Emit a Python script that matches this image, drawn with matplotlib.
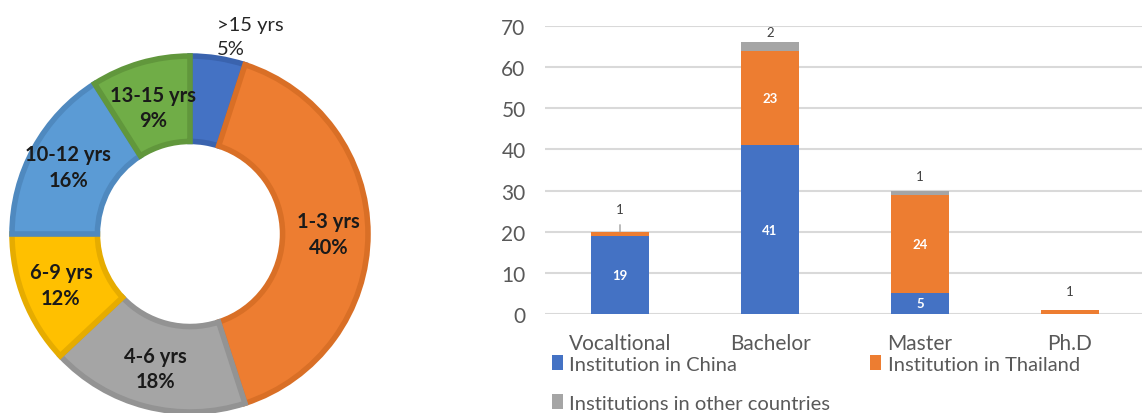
import matplotlib
matplotlib.use("Agg")
from matplotlib import pyplot as plt
import numpy as np

plt.rcParams['font.family'] = ['Lato', 'DejaVu Sans']

# donut data (clockwise from top)
years = [">15 yrs", "1-3 yrs", "4-6 yrs", "6-9 yrs", "10-12 yrs", "13-15 yrs"]
shares = [5, 40, 18, 12, 16, 9]
pie_colors = ["#4472C4", "#ED7D31", "#A5A5A5", "#FFC000", "#5B9BD5", "#70AD47"]
pie_edges = ["#3A63AE", "#D96F26", "#939393", "#E6AC00", "#4F89BF", "#61973C"]

# stacked bar data
levels = ["Vocaltional", "Bachelor", "Master", "Ph.D"]
china = [19, 41, 5, 0]
thailand = [1, 23, 24, 1]
other = [0, 2, 1, 0]

fig = plt.figure(figsize=(11.42, 4.14), dpi=100)

# ---- donut ----
axp = fig.add_axes([12/1142, 1/414, 356/1142, 356/414])
wedges, _ = axp.pie(shares, colors=pie_colors, startangle=90, counterclock=False,
                    radius=1.0, wedgeprops=dict(width=0.48, linewidth=4))
for w, ec in zip(wedges, pie_edges):
    w.set_edgecolor(ec)
axp.set_xlim(-1, 1)
axp.set_ylim(-1, 1)
axp.set_aspect('equal')

total = sum(shares)
start = 90.0
for i, (lab, s) in enumerate(zip(years, shares)):
    ang = start - 360 * s / total / 2
    start -= 360 * s / total
    txt = f"{lab}\n{s}%"
    if i == 0:
        axp.text(0.15, 1.11, txt, ha='left', va='center', fontsize=14.5,
                 color='#262626', linespacing=1.45, clip_on=False)
        continue
    r = 0.78 if i != 5 else 0.74
    x, y = r * np.cos(np.radians(ang)), r * np.sin(np.radians(ang))
    axp.text(x, y, txt, ha='center', va='center', fontsize=14.5, fontweight='bold',
             color='#1a1a1a', linespacing=1.35)

# ---- stacked bars ----
ax = fig.add_axes([545/1142, 1 - 315/414, 600/1142, 288/414])
xs = np.arange(len(levels))
bw = 0.39
b1 = ax.bar(xs, china, bw, color="#4472C4", zorder=3)
b2 = ax.bar(xs, thailand, bw, bottom=china, color="#ED7D31", zorder=3)
bot3 = np.array(china) + np.array(thailand)
b3 = ax.bar(xs, other, bw, bottom=bot3, color="#A5A5A5", zorder=3)

ax.set_xlim(-0.5, 3.5)
ax.set_ylim(0, 70)
ax.set_yticks(range(0, 71, 10))
ax.grid(axis='y', color='#D9D9D9', linewidth=1.5, zorder=0)
for sp in ax.spines.values():
    sp.set_visible(False)
ax.tick_params(axis='y', length=0, labelsize=15, labelcolor='#595959', pad=14)
ax.tick_params(axis='x', length=0, labelsize=15, labelcolor='#595959', pad=14)
ax.set_xticks(xs)
ax.set_xticklabels(levels)

# labels inside
for i in range(len(levels)):
    if china[i] >= 5:
        ax.text(xs[i], china[i] / 2 if china[i] > 5 else 2.6, str(china[i]), ha='center',
                va='center', color='white', fontsize=9.5, fontweight='bold', zorder=4)
    if thailand[i] >= 5:
        ax.text(xs[i], china[i] + thailand[i] / 2, str(thailand[i]), ha='center',
                va='center', color='white', fontsize=9.5, fontweight='bold', zorder=4)
# small values above bars
ax.annotate(str(thailand[0]), xy=(xs[0], bot3[0]), xytext=(xs[0], bot3[0] + 5.5),
            ha='center', va='center', fontsize=9.5, color='#404040',
            arrowprops=dict(arrowstyle='-', color='#A0A0A0', lw=1, shrinkA=5, shrinkB=0))
ax.text(xs[1], bot3[1] + other[1] + 2.5, str(other[1]), ha='center', va='center',
        fontsize=9.5, color='#404040')
ax.text(xs[2], bot3[2] + other[2] + 3.6, str(other[2]), ha='center', va='center',
        fontsize=9.5, color='#404040')
ax.text(xs[3], bot3[3] + 4.6, str(thailand[3]), ha='center', va='center',
        fontsize=9.5, color='#404040')

handles = [b1, b3, b2]
labels = ["Institution in China", "Institutions in other countries", "Institution in Thailand"]
leg = fig.legend(handles, labels, loc='upper left', bbox_to_anchor=(552/1142, 1 - 356/414),
                 ncol=2, frameon=False, fontsize=14.5, handlelength=0.55, handleheight=0.8,
                 handletextpad=0.3, columnspacing=2.0, labelspacing=1.05,
                 borderaxespad=0, borderpad=0)
for t in leg.get_texts():
    t.set_color('#595959')

fig.savefig("out.png", dpi=100)
